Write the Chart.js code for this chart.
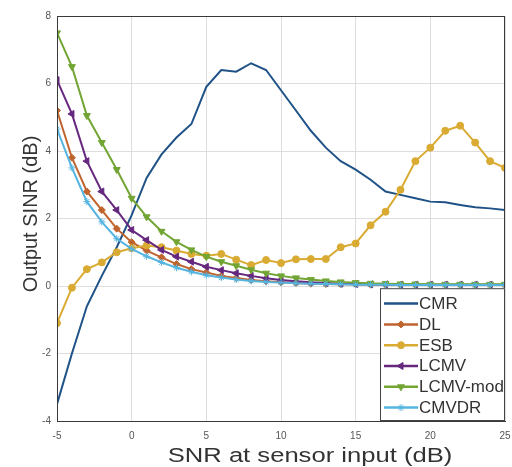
<!DOCTYPE html>
<html>
<head>
<meta charset="utf-8">
<script src="https://cdn.jsdelivr.net/npm/chart.js@4/dist/chart.umd.min.js"></script>
<style>
  html, body { margin: 0; padding: 0; background: #fff; }
  #wrap { width: 512px; height: 467px; }
</style>
</head>
<body>
<div id="wrap"><canvas id="sinrChart" width="512" height="467"></canvas></div>
<script>
// 横轴：传感器输入 SNR (dB)
const snrInput = [-5, -4, -3, -2, -1, 0, 1, 2, 3, 4, 5, 6, 7, 8, 9, 10, 11, 12, 13, 14, 15, 16, 17, 18, 19, 20, 21, 22, 23, 24, 25];

// 各方法的输出 SINR (dB)
const cmr = [-3.5, -2.0, -0.6, 0.3, 1.15, 2.1, 3.2, 3.9, 4.4, 4.8, 5.9, 6.4, 6.35, 6.6, 6.4, 5.8, 5.2, 4.6, 4.1, 3.7, 3.45, 3.15, 2.8, 2.7, 2.6, 2.5, 2.48, 2.4, 2.33, 2.3, 2.25];
const dl = [5.2, 3.8, 2.8, 2.25, 1.7, 1.3, 1.05, 0.85, 0.65, 0.5, 0.4, 0.3, 0.24, 0.18, 0.14, 0.11, 0.09, 0.07, 0.06, 0.05, 0.05, 0.04, 0.04, 0.03, 0.03, 0.03, 0.03, 0.03, 0.03, 0.03, 0.03];
const esb = [-1.1, -0.05, 0.5, 0.7, 1.0, 1.12, 1.2, 1.15, 1.05, 0.95, 0.9, 0.95, 0.78, 0.62, 0.77, 0.68, 0.79, 0.8, 0.8, 1.15, 1.26, 1.8, 2.2, 2.85, 3.7, 4.1, 4.6, 4.75, 4.25, 3.7, 3.5];
const lcmv = [6.1, 5.1, 3.7, 2.8, 2.25, 1.66, 1.36, 1.07, 0.87, 0.72, 0.57, 0.47, 0.38, 0.3, 0.23, 0.18, 0.14, 0.11, 0.09, 0.07, 0.06, 0.05, 0.05, 0.04, 0.04, 0.04, 0.04, 0.04, 0.04, 0.04, 0.04];
const lcmvMod = [7.5, 6.5, 5.05, 4.25, 3.45, 2.6, 2.05, 1.62, 1.31, 1.07, 0.87, 0.72, 0.6, 0.48, 0.38, 0.3, 0.24, 0.19, 0.15, 0.12, 0.1, 0.08, 0.07, 0.06, 0.06, 0.05, 0.05, 0.05, 0.05, 0.05, 0.05];
const cmvdr = [4.65, 3.5, 2.5, 1.9, 1.4, 1.1, 0.88, 0.7, 0.54, 0.42, 0.32, 0.25, 0.19, 0.15, 0.12, 0.1, 0.08, 0.07, 0.06, 0.05, 0.04, 0.04, 0.04, 0.03, 0.03, 0.03, 0.03, 0.03, 0.03, 0.03, 0.03];

// 刻度
const xTicks = [-5, 0, 5, 10, 15, 20, 25];
const yTicks = [-4, -2, 0, 2, 4, 6, 8];

const xTitle = 'SNR at sensor input (dB)';
const yTitle = 'Output SINR (dB)';
const fontFamily = '"Liberation Sans", Arial, sans-serif';

function toPoints(values) {
    return snrInput.map((x, i) => ({ x: x, y: values[i] }));
}

function series(label, values, color, style, rotation, radius, showPoints, order) {
    return {
        label: label,
        data: toPoints(values),
        borderColor: color,
        backgroundColor: color,
        pointBackgroundColor: color,
        pointBorderColor: color,
        pointStyle: showPoints ? style : false,
        rotation: rotation,
        pointRadius: showPoints ? radius : 0,
        pointBorderWidth: 1,
        borderWidth: 2,
        tension: 0,
        order: order
    };
}

// 横向拉伸绘制文字（原图横向被拉宽）
function stretchedText(ctx, text, x, y, sx) {
    ctx.save();
    ctx.translate(x, y);
    ctx.scale(sx, 1);
    ctx.fillText(text, 0, 0);
    ctx.restore();
}

// 轴标题
const axisTitles = {
    id: 'axisTitles',
    afterDraw(chart) {
        const ctx = chart.ctx;
        ctx.save();
        ctx.fillStyle = '#333333';
        ctx.font = '20px ' + fontFamily;
        ctx.textBaseline = 'alphabetic';
        ctx.textAlign = 'center';
        stretchedText(ctx, xTitle, 310, 462, 1.28);
        ctx.translate(37, 214);
        ctx.rotate(-Math.PI / 2);
        ctx.fillText(yTitle, 0, 0);
        ctx.restore();
    }
};

// 图内图例（右下角，仿 MATLAB 样式）
const boxLegend = {
    id: 'boxLegend',
    afterDraw(chart) {
        const ctx = chart.ctx;
        const area = chart.chartArea;
        const sets = chart.data.datasets;
        const rowH = 20.8;
        const w = 125, h = sets.length * rowH + 8;
        const x0 = area.right - w, y0 = area.bottom - h;
        ctx.save();
        ctx.fillStyle = '#ffffff';
        ctx.fillRect(x0, y0, w, h);
        ctx.strokeStyle = '#444444';
        ctx.lineWidth = 1;
        ctx.strokeRect(x0 + 0.5, y0 + 0.5, w - 1, h - 1);
        ctx.font = '16px ' + fontFamily;
        ctx.textBaseline = 'middle';
        sets.forEach((ds, i) => {
            const cy = y0 + 5 + rowH * i + rowH / 2;
            const lx1 = x0 + 4, lx2 = x0 + 38;
            ctx.strokeStyle = ds.borderColor;
            ctx.lineWidth = 2.5;
            ctx.beginPath();
            ctx.moveTo(lx1, cy);
            ctx.lineTo(lx2, cy);
            ctx.stroke();
            if (ds.pointStyle) {
                ctx.fillStyle = ds.pointBackgroundColor;
                ctx.strokeStyle = ds.pointBorderColor;
                ctx.lineWidth = 1;
                Chart.helpers.drawPoint(ctx, {
                    pointStyle: ds.pointStyle,
                    rotation: ds.rotation,
                    radius: ds.pointRadius,
                    borderWidth: 1
                }, (lx1 + lx2) / 2, cy);
            }
            ctx.fillStyle = '#333333';
            stretchedText(ctx, ds.label, lx2 + 1, cy + 1, 1.06);
        });
        ctx.restore();
    }
};

// 坐标框
const axesBox = {
    id: 'axesBox',
    afterDatasetsDraw(chart) {
        const ctx = chart.ctx;
        const a = chart.chartArea;
        ctx.save();
        ctx.strokeStyle = '#3a3a3a';
        ctx.lineWidth = 1;
        ctx.strokeRect(a.left + 0.5, a.top + 0.5, a.right - a.left - 1, a.bottom - a.top);
        ctx.restore();
    }
};

const tickFont = { family: fontFamily, size: 10 };

new Chart(document.getElementById('sinrChart'), {
    type: 'line',
    data: {
        datasets: [
            series('CMR', cmr, '#1f5286', 'circle', 0, 0, false, 5),
            series('DL', dl, '#c0642e', 'rectRot', 0, 3.5, true, 4),
            series('ESB', esb, '#d9ab33', 'circle', 0, 3.5, true, 3),
            series('LCMV', lcmv, '#66287e', 'triangle', -90, 4, true, 2),
            series('LCMV-mod', lcmvMod, '#72a533', 'triangle', 180, 4, true, 1),
            series('CMVDR', cmvdr, '#55b4e0', 'star', 0, 3.5, true, 0)
        ]
    },
    options: {
        responsive: false,
        animation: false,
        layout: { padding: { left: 0, right: 7, top: 16, bottom: 0 } },
        plugins: {
            legend: { display: false },
            tooltip: { enabled: false }
        },
        scales: {
            x: {
                type: 'linear',
                min: -5,
                max: 25,
                afterFit: s => { s.height = 46; s.paddingLeft = 0; s.paddingRight = 0; },
                afterBuildTicks: s => { s.ticks = xTicks.map(v => ({ value: v })); },
                grid: { color: '#dedede', drawTicks: false },
                border: { color: '#3a3a3a' },
                ticks: { font: tickFont, color: '#555', padding: 9, maxRotation: 0 }
            },
            y: {
                min: -4,
                max: 8,
                afterFit: s => { s.width = 57; s.paddingTop = 0; s.paddingBottom = 0; },
                afterBuildTicks: s => { s.ticks = yTicks.map(v => ({ value: v })); },
                grid: { color: '#dedede', drawTicks: false },
                border: { color: '#3a3a3a' },
                ticks: { font: tickFont, color: '#555', padding: 6 }
            }
        }
    },
    plugins: [axesBox, boxLegend, axisTitles]
});
</script>
</body>
</html>
